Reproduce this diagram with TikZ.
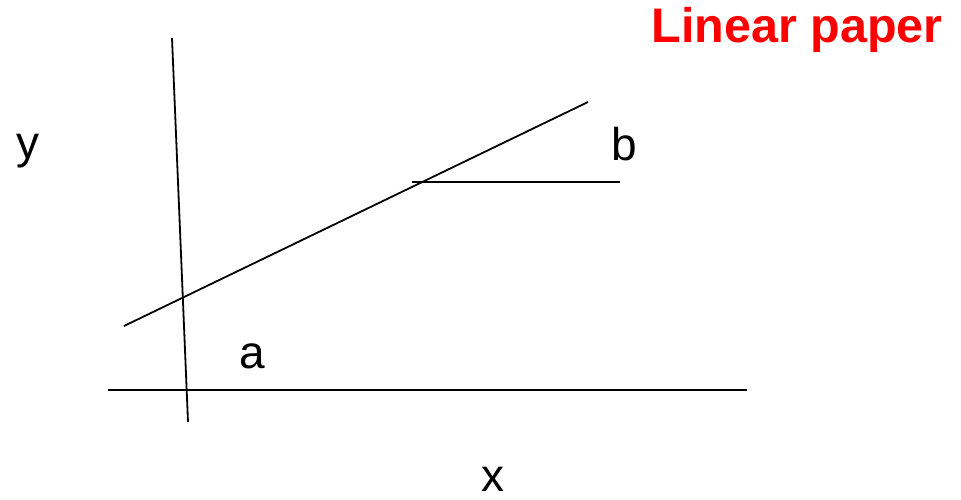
\documentclass[tikz,border=0pt]{standalone}
\usepackage{fontspec}
\setmainfont{Liberation Sans}
\begin{document}
\begin{tikzpicture}[x=1pt,y=-1pt,
  ln/.style={line width=1.8pt,black},
  lbl/.style={inner sep=0pt,anchor=base west,font=\fontsize{46}{55}\selectfont},
  ttl/.style={inner sep=0pt,anchor=base east,text=red,font=\fontsize{48.5}{58}\selectfont\bfseries}]
\useasboundingbox (0,0) rectangle (961,499);
\coordinate (vt) at (172,38);
\coordinate (vb) at (188,422);
\coordinate (hl) at (108,390);
\coordinate (hr) at (747,390);
\coordinate (sl) at (124,326);
\coordinate (sr) at (588,102);
\coordinate (bl) at (412,182);
\coordinate (br) at (620,182);
\draw[ln] (vt) -- (vb);
\draw[ln] (hl) -- (hr);
\draw[ln] (sl) -- (sr);
\draw[ln] (bl) -- (br);
\node[ttl] (title) at (943,42.5) {Linear paper};
\node[lbl] (ylab) at (16,158) {y};
\node[lbl] (alab) at (239,368) {a};
\node[lbl] (blab) at (611,160) {b};
\node[lbl,text depth=0pt] (xlab) at (481,491) {x};
\end{tikzpicture}
\end{document}
